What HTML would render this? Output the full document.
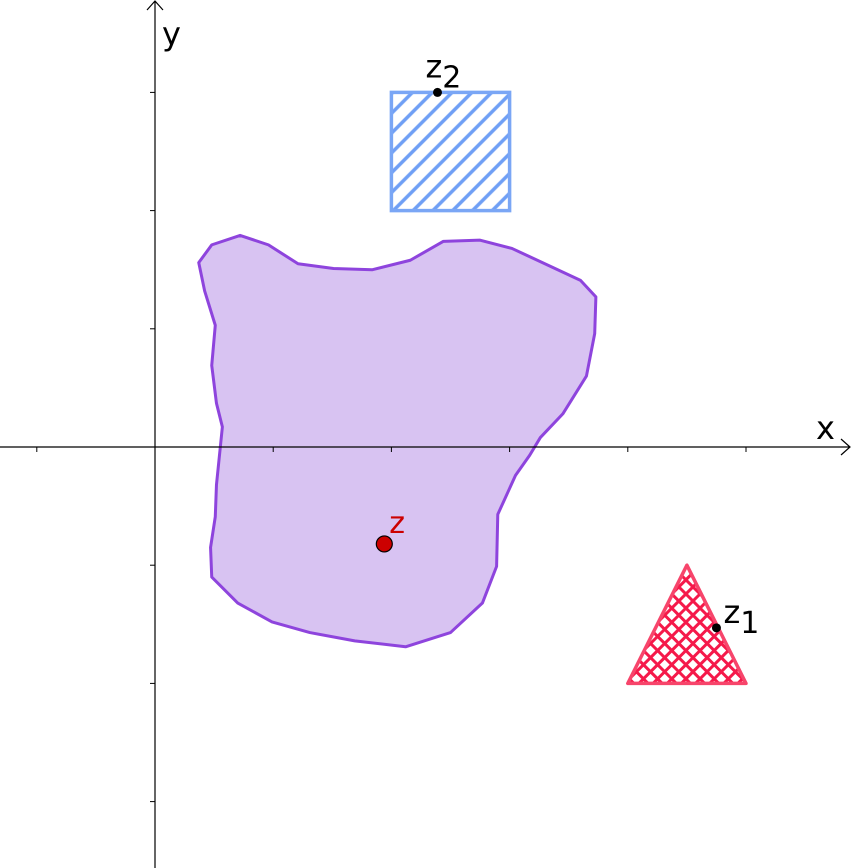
<!DOCTYPE html>
<html><head><meta charset="utf-8"><style>
html,body{margin:0;padding:0;background:#fff;}
svg{display:block;font-family:"DejaVu Sans","Liberation Sans",sans-serif;}
</style></head><body>
<svg id="c" width="853" height="868" viewBox="0 0 853 868">
<defs>
<pattern id="hatch" patternUnits="userSpaceOnUse" width="14" height="14" patternTransform="rotate(45)">
<line x1="7" y1="0" x2="7" y2="14" stroke="#6f9ff5" stroke-width="3.5"/>
</pattern>
<pattern id="cross" patternUnits="userSpaceOnUse" width="10" height="10" patternTransform="rotate(45)">
<line x1="5" y1="0" x2="5" y2="10" stroke="#f5194a" stroke-width="3"/>
<line x1="0" y1="5" x2="10" y2="5" stroke="#f5194a" stroke-width="3"/>
</pattern>
</defs>
<g id="layer"></g>
</svg>
<script>
const xTicks=[-1,1,2,3,4,5];
const yTicks=[3,2,1,-1,-2,-3];
const blobX=[0.37,0.48,0.72,0.96,1.21,1.51,1.84,2.16,2.44,2.75,3.02,3.60,3.73,3.72,3.65,3.45,3.26,3.17,3.05,2.90,2.89,2.77,2.50,2.12,1.69,1.31,0.99,0.70,0.48,0.47,0.51,0.52,0.57,0.52,0.48,0.51,0.42];
const blobY=[1.56,1.71,1.79,1.71,1.55,1.51,1.50,1.58,1.74,1.75,1.68,1.41,1.27,0.96,0.60,0.28,0.08,-0.07,-0.24,-0.57,-1.01,-1.32,-1.57,-1.69,-1.64,-1.57,-1.48,-1.32,-1.10,-0.85,-0.59,-0.32,0.17,0.37,0.69,1.03,1.32];
const rectX=[2,3];
const rectY=[2,3];
const triX=[4,5,4.5];
const triY=[-2,-2,-1];
const pointNames=["z","z1","z2"];
const pointX=[1.94,4.75,2.39];
const pointY=[-0.82,-1.53,3];

const U=118.2, OX=155, OY=447;
const sx=v=>OX+v*U, sy=v=>OY-v*U;
const NS="http://www.w3.org/2000/svg";
const g=document.getElementById('layer');
function mk(tag,attrs){const e=document.createElementNS(NS,tag);for(const k in attrs)e.setAttribute(k,attrs[k]);g.appendChild(e);return e;}

let d=blobX.map((x,i)=>(i?'L':'M')+sx(x)+','+sy(blobY[i])).join(' ')+'Z';
let b=mk('path',{d:d,fill:'#d8c3f2',stroke:'#8e44dd','stroke-width':3,'stroke-linejoin':'round'});



let r=mk('rect',{x:sx(rectX[0]),y:sy(rectY[1]),width:sx(rectX[1])-sx(rectX[0]),height:sy(rectY[0])-sy(rectY[1]),fill:'url(#hatch)',stroke:'#7aa6f5','stroke-width':3.5});



let t=mk('polygon',{points:triX.map((x,i)=>sx(x)+','+sy(triY[i])).join(' '),fill:'url(#cross)',stroke:'#f7456b','stroke-width':3.5,'stroke-linejoin':'round'});



let xa=mk('path',{d:'M0,'+OY+' H850 M841,'+(OY-8)+' L850,'+OY+' L841,'+(OY+8),fill:'none',stroke:'#000','stroke-width':1.2});


let ya=mk('path',{d:'M'+OX+',868 V1 M'+(OX-8)+',10 L'+OX+',1 L'+(OX+8)+',10',fill:'none',stroke:'#000','stroke-width':1.2});


xTicks.forEach(v=>{let l=mk('line',{x1:sx(v),x2:sx(v),y1:OY,y2:OY+5,stroke:'#000','stroke-width':1});

});
yTicks.forEach(v=>{let l=mk('line',{x1:OX-5,x2:OX,y1:sy(v),y2:sy(v),stroke:'#000','stroke-width':1});

});
let xl=mk('text',{x:816,y:439,'font-size':32});xl.textContent='x';


let yl=mk('text',{x:162,y:45,'font-size':32});yl.textContent='y';



pointNames.forEach((n,i)=>{
  const px=sx(pointX[i]), py=sy(pointY[i]);
  if(n==='z'){
    let c=mk('circle',{cx:px,cy:py,r:8,fill:'#cc0000',stroke:'#000','stroke-width':1.2});
    
    
    let tx=mk('text',{x:px+5,y:py-11,'font-size':30,fill:'#cc0000'});tx.textContent='z';
    
    
  } else {
    let c=mk('circle',{cx:px,cy:py,r:4.5,fill:'#000'});
    
    
    let tx=mk('text',{x:px-12+(n==='z1'?19:0),y:py-(n==='z1'?5:15),'font-size':32,fill:'#000'});
    tx.innerHTML='z<tspan dy="10" font-size="30">'+n.slice(1)+'</tspan>';
    
    
  }
});
</script>
</body></html>
